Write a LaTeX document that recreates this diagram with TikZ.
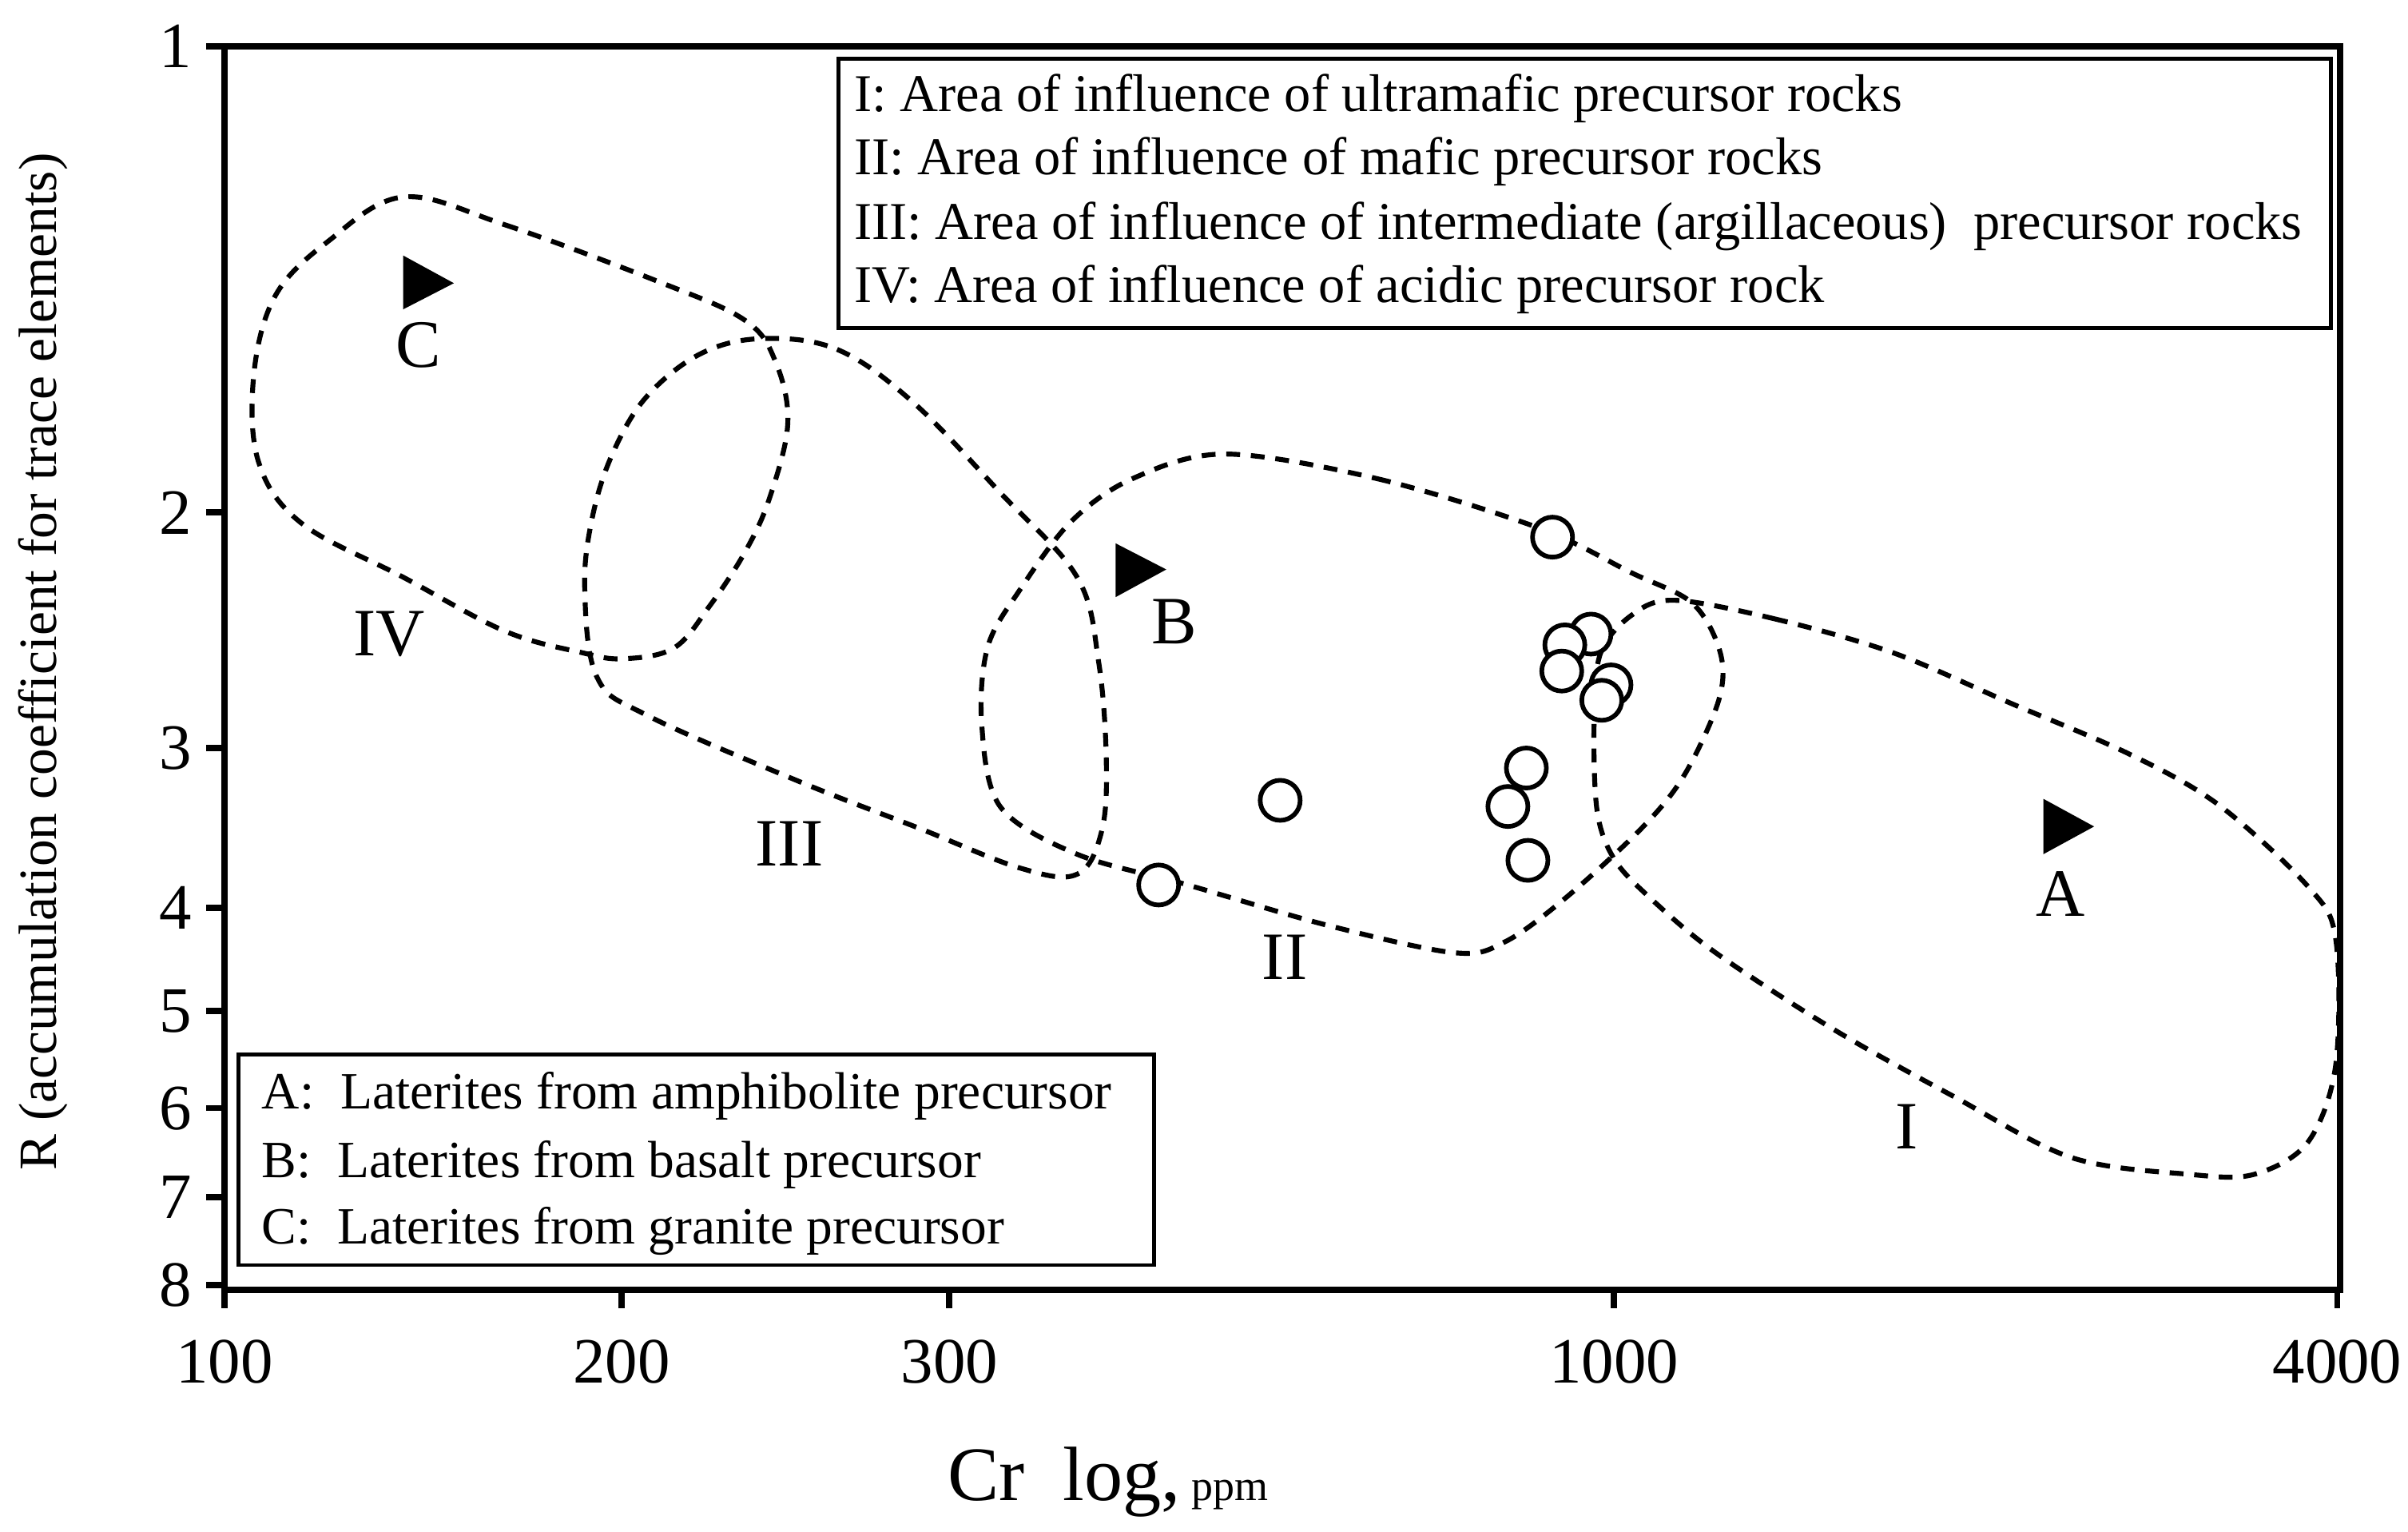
\documentclass[tikz,border=0pt]{standalone}
\usepackage{fontspec}
\setmainfont{Liberation Serif}
\begin{document}
\begin{tikzpicture}[x=1pt,y=-1pt,
  frame/.style={line width=4pt},
  zone/.style={line width=3.2pt,dash pattern=on 9pt off 7pt},
  pt/.style={circle,draw,line width=3pt,minimum size=26pt,inner sep=0pt,fill=white},
  tri/.style={fill=black},
  big/.style={font=\fontsize{44}{44}\selectfont},
  leg/.style={font=\fontsize{34.5}{34}\selectfont,anchor=west,inner sep=0pt},
  leg2/.style={font=\fontsize{34}{34}\selectfont,anchor=west,inner sep=0pt},
  tick/.style={font=\fontsize{42}{42}\selectfont}]
\useasboundingbox (0,0) rectangle (1565,995);
% zones
\draw[zone] plot[smooth cycle,tension=0.6] coordinates{(262,128)(328,146)(428,183)(484,208)(504,235)(512,275)(500,324)(484,359)(461,394)(438,421)(405,428)(378,424)(328,410)(262,375)(196,340)(168,300)(165,243)(179,192)(213,157)};
\draw[zone] plot[smooth cycle,tension=0.6] coordinates{(495,220)(544,227)(593,261)(650,320)(700,375)(714,430)(719,494)(716,540)(700,568)(663,564)(597,538)(520,508)(421,465)(388,440)(380,382)(385,336)(398,295)(420,258)(455,230)};
\draw[zone] plot[smooth cycle,tension=0.55] coordinates{(796,295)(895,311)(1000,343)(1060,372)(1100,392)(1118,424)(1117,455)(1095,503)(1068,537)(1018,583)(978,612)(945,619)(862,601)(772,575)(700,555)(650,524)(638,470)(642,420)(663,383)(696,339)(736,311)};
\draw[zone] plot[smooth cycle,tension=0.55] coordinates{(1088,390)(1153,402)(1230,424)(1307,457)(1384,490)(1442,523)(1500,576)(1518,610)(1518,692)(1500,742)(1465,763)(1423,763)(1346,752)(1269,712)(1192,669)(1115,619)(1072,583)(1049,558)(1038,527)(1036,470)(1040,425)(1060,400)};
% frame
\draw[frame] (146,30) rectangle (1521,838);
\foreach \y/\t in {30/1,333/2,486/3,590/4,657/5,720/6,778/7,835/8}{
  \draw[frame] (134,\y) -- (146,\y);
  \node[tick,anchor=east] at (128,\y) {\t};}
\foreach \x/\t in {146/100,404/200,617/300,1049/1000,1519/4000}{
  \draw[frame] (\x,838) -- (\x,850);
  \node[tick] at (\x,885) {\t};}
\node[font=\fontsize{35}{35}\selectfont,rotate=90] (yl) at (28,430) {R (accumulation coefficient for trace elements)};
\node[font=\fontsize{50}{50}\selectfont] (xl) at (720,963) {Cr\ \ log,{\fontsize{28}{28}\selectfont\ ppm}};
% legends
\draw[line width=2.5pt,fill=white] (545,38) rectangle (1515,213);
\node[leg] (l1) at (555,64) {I: Area of influence of ultramafic precursor rocks};
\node[leg] (l2) at (555,105) {II: Area of influence of mafic precursor rocks};
\node[leg] (l3) at (555,147) {III: Area of influence of intermediate (argillaceous)\ \ precursor rocks};
\node[leg] (l4) at (555,188) {IV: Area of influence of acidic precursor rock};
\draw[line width=2.5pt,fill=white] (155,685) rectangle (750,822);
\node[leg2] (a1) at (170,712) {A:\ \ Laterites from amphibolite precursor};
\node[leg2] (a2) at (170,757) {B:\ \ Laterites from basalt precursor};
\node[leg2] (a3) at (170,800) {C:\ \ Laterites from granite precursor};
% points
\foreach \n/\x/\y in {p1/1009/349,p2/1034/412,p3/1017/419,p4/1015/436,p5/1047/445,p6/1041/455,p7/992/499,p8/832/520,p9/980/524,p10/993/559,p11/753/575}
  \node[pt] (\n) at (\x,\y) {};
% triangles
\fill[tri] (262,166) -- (295,184) -- (262,201) -- cycle;
\fill[tri] (725,353) -- (758,370) -- (725,388) -- cycle;
\fill[tri] (1328,519) -- (1361,537) -- (1328,555) -- cycle;
\node[big] (C) at (272,224) {C};
\node[big] (B) at (763,404) {B};
\node[big] (A) at (1339,581) {A};
\node[big] (IV) at (253,412) {IV};
\node[big] (III) at (513,548) {III};
\node[big] (II) at (835,622) {II};
\node[big] (I) at (1239,732) {I};
\end{tikzpicture}
\end{document}
